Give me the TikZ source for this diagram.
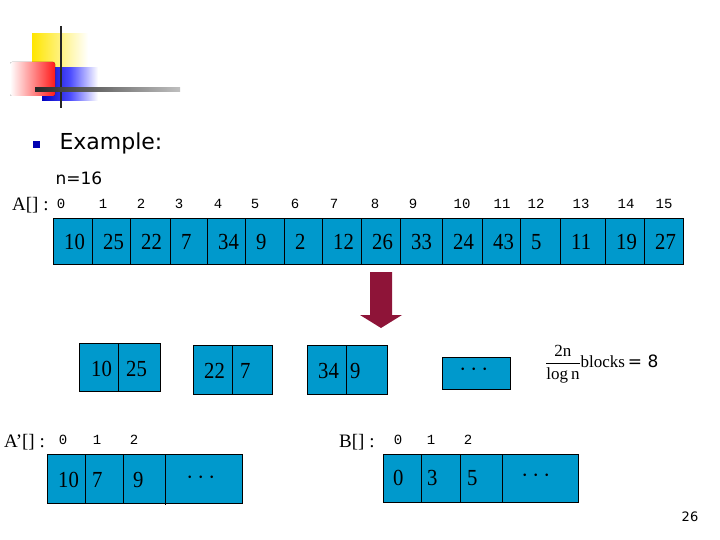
\documentclass[tikz,border=0pt]{standalone}
\usepackage{fontspec}
\usepackage{amsmath}
\setmainfont{Liberation Serif}
\setsansfont{DejaVu Sans}
\setmonofont{Liberation Mono}
\usetikzlibrary{positioning}
\definecolor{cellblue}{HTML}{0099CC}
\definecolor{arrowred}{HTML}{8E1438}
\tikzset{
  cellbox/.style={draw=black,fill=cellblue,line width=0.6pt},
  val/.style={font=\fontsize{23}{23}\selectfont,anchor=west,inner sep=0pt,xscale=0.9},
  idx/.style={font=\ttfamily\fontsize{14}{14}\selectfont,inner sep=0pt},
  lbl/.style={font=\fontsize{19}{19}\selectfont,inner sep=0pt},
  dotsnode/.style={font=\fontsize{24}{24}\selectfont}
}
\begin{document}
\begin{tikzpicture}[x=1pt,y=-1pt]
  \useasboundingbox (0,0) rectangle (720,540);
  %LOGO
  \fill[left color=yellow!80!orange,right color=white] (32,34) rectangle (88,68);
  \fill[left color=blue!75!black,right color=white,middle color=blue!70] (42,68) rectangle (98,101);
  \fill[left color=white,right color=red!90,rounded corners=2pt] (10,62) rectangle (55,96);
  \draw[line width=2.5pt,black!85] (61,26) -- (61,108);
  \shade[left color=black!85,right color=gray!50] (35,88) rectangle (180,92);
  %TITLE
  \fill[blue!70!black] (33,141) rectangle (40,148);
  \node[font=\sffamily\fontsize{22}{22}\selectfont,anchor=west] (title) at (56,143) {Example:};
  \node[font=\sffamily\fontsize{17}{17}\selectfont,anchor=west] (n) at (52,178) {n=16};
  %ARRAY A
  \node[lbl,anchor=west] (alabel) at (12,205) {A[] :};
  \foreach \l/\r/\v/\ix/\xi [count=\i from 0] in {
      53/92/10/61/0, 92/130/25/103/1, 130/170/22/141/2, 170/207/7/179/3,
      207/245/34/218/4, 245/284/9/255/5, 284/322/2/295/6, 322/361/12/334/7,
      361/400/26/375/8, 400/442/33/413/9, 442/482/24/462/10, 482/520/43/502/11,
      520/560/5/536/12, 560/605/11/581/13, 605/644/19/626/14, 644/683/27/664/15} {
    \draw[cellbox] (\l,218) rectangle (\r,264);
    \node[val] (a\i) at (\l+11,242) {\v};
    \node[idx] (ai\i) at (\ix,204) {\xi};
  }
  %ARROW
  \fill[arrowred] (370,272) -- (392,272) -- (392,315) -- (402,315) -- (381,328)
    -- (360,315) -- (370,315) -- cycle;
  %BLOCKS
  \draw[cellbox] (79,343) rectangle (160,391);
  \draw (118,343) -- (118,391);
  \node[val] (b1) at (91,369) {10};
  \node[val] (b2) at (126,369) {25};
  \draw[cellbox] (193,345) rectangle (272,394);
  \draw (232,345) -- (232,394);
  \node[val] (b3) at (204,371) {22};
  \node[val] (b4) at (240,371) {7};
  \draw[cellbox] (307,345) rectangle (387,394);
  \draw (346,345) -- (346,394);
  \node[val] (b5) at (318,371) {34};
  \node[val] (b6) at (350,371) {9};
  \draw[cellbox] (442,357) rectangle (510,389);
  \node[dotsnode] (bdots) at (476,370) {$\cdots$};
  \node[anchor=west,inner sep=0pt] (frac) at (545,364)
    {\fontsize{17}{17}\selectfont$\dfrac{\mathrm{2n}}{\log\mathrm{n}}$blocks{\sffamily\,= 8}};
  %ARRAY A'
  \node[lbl,anchor=west] (aplabel) at (4,442) {A’[] :};
  \node[idx] (ap0) at (63,440) {0};
  \node[idx] (ap1) at (97,440) {1};
  \node[idx] (ap2) at (134,440) {2};
  \draw[cellbox] (47,454) rectangle (242,503);
  \draw (85,454) -- (85,503) (123,454) -- (123,503) (165,454) -- (165,505);
  \node[val] (apv0) at (58,480) {10};
  \node[val] (apv1) at (92,480) {7};
  \node[val] (apv2) at (133,480) {9};
  \node[dotsnode] (apdots) at (203,478) {$\cdots$};
  %ARRAY B
  \node[lbl,anchor=west] (blabel) at (339,442) {B[] :};
  \node[idx] (bi0) at (398,440) {0};
  \node[idx] (bi1) at (431,440) {1};
  \node[idx] (bi2) at (468,440) {2};
  \draw[cellbox] (383,454) rectangle (578,502);
  \draw (421,454) -- (421,502) (460,454) -- (460,502) (502,454) -- (502,502);
  \node[val] (bv0) at (393,478) {0};
  \node[val] (bv1) at (427,478) {3};
  \node[val] (bv2) at (467,478) {5};
  \node[dotsnode] (bdots2) at (538,476) {$\cdots$};
  %PAGE
  \node[font=\sffamily\fontsize{13}{13}\selectfont] (page) at (690,517) {26};
\end{tikzpicture}
\end{document}
